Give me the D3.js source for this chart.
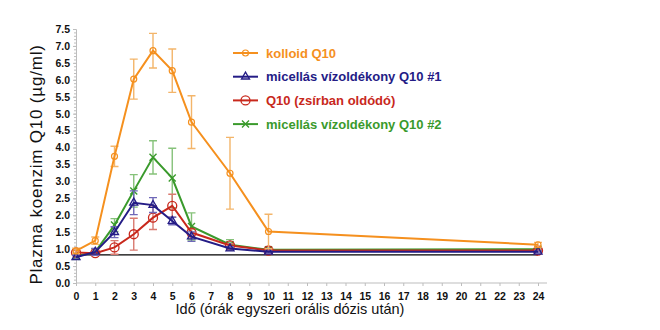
<!DOCTYPE html>
<html>
<head>
<meta charset="utf-8">
<script src="https://cdn.jsdelivr.net/npm/d3@7"></script>
<style>
  body { margin: 0; background: #fff; }
  svg { display: block; }
</style>
</head>
<body>
<svg id="chart" width="660" height="330"></svg>
<script>
// hours after the dose and mean plasma levels (µg/ml) with error bar half-widths
const hours = [0, 1, 2, 3, 4, 5, 6, 8, 10, 24];
const kolloid = [0.95, 1.25, 3.74, 6.02, 6.86, 6.27, 4.75, 3.24, 1.52, 1.13];
const kolloidErr = [0.08, 0.11, 0.30, 0.59, 0.51, 0.64, 0.78, 1.06, 0.51, 0.07];
const micel1 = [0.76, 0.92, 1.50, 2.37, 2.30, 1.83, 1.37, 1.02, 0.92, 0.92];
const micel1Err = [0.06, 0.10, 0.16, 0.35, 0.22, 0.11, 0.14, 0.05, 0.03, 0.03];
const zsir = [0.90, 0.88, 1.05, 1.44, 1.93, 2.28, 1.49, 1.11, 0.96, 0.96];
const zsirErr = [0.06, 0.05, 0.20, 0.47, 0.35, 0.34, 0.10, 0.05, 0.03, 0.03];
const micel2 = [0.78, 0.92, 1.71, 2.72, 3.71, 3.10, 1.67, 1.13, 0.98, 1.00];
const micel2Err = [0.06, 0.08, 0.19, 0.48, 0.49, 0.88, 0.40, 0.15, 0.04, 0.03];
const baseline = 0.83;

const series = [
  { name: 'kolloid Q10', values: kolloid, err: kolloidErr, color: '#f5901e', errColor: '#f3b56a', marker: 'smallcircle' },
  { name: 'micellás vízoldékony Q10 #1', values: micel1, err: micel1Err, color: '#241c86', errColor: '#6f68b8', marker: 'triangle' },
  { name: 'Q10 (zsírban oldódó)', values: zsir, err: zsirErr, color: '#c8281c', errColor: '#d97a70', marker: 'circle' },
  { name: 'micellás vízoldékony Q10 #2', values: micel2, err: micel2Err, color: '#3a9a2c', errColor: '#86c27a', marker: 'cross' }
];

const svg = d3.select('#chart');
const x = d3.scaleLinear().domain([0, 24]).range([76, 538]);
const y = d3.scaleLinear().domain([0, 7.5]).range([283, 29]);

// axes
const axisColor = '#bdbdbd';
const yAxis = svg.append('g').attr('transform', 'translate(76,0)')
  .call(d3.axisLeft(y).tickValues(d3.range(0, 7.51, 0.5)).tickSize(3).tickFormat(d3.format('.1f')));
svg.append('g').attr('transform', 'translate(76,0)')
  .call(d3.axisLeft(y).tickValues(d3.range(0, 7.51, 0.1)).tickSize(2).tickFormat(''))
  .call(g => g.select('.domain').remove())
  .selectAll('line').attr('stroke', axisColor);
yAxis.select('.domain').attr('stroke', axisColor);
yAxis.selectAll('line').attr('stroke', axisColor);
yAxis.selectAll('text')
  .attr('x', -6)
  .style('font-family', 'Liberation Sans, Arial, sans-serif')
  .style('font-weight', 'bold')
  .style('font-size', '10.5px')
  .attr('fill', '#111');

const xAxis = svg.append('g').attr('transform', 'translate(0,283)')
  .call(d3.axisBottom(x).tickValues(d3.range(0, 25, 1)).tickSize(3).tickFormat(d3.format('d')));
xAxis.select('.domain').attr('stroke', axisColor).attr('d', `M76,0H547`);
xAxis.selectAll('line').attr('stroke', axisColor);
xAxis.selectAll('text')
  .attr('y', 10)
  .style('font-family', 'Liberation Sans, Arial, sans-serif')
  .style('font-weight', 'bold')
  .style('font-size', '10.5px')
  .attr('fill', '#111');

// axis titles
svg.append('text')
  .attr('transform', `translate(42,${y(3.5)}) rotate(-90)`)
  .attr('text-anchor', 'middle')
  .style('font-family', 'Liberation Sans, Arial, sans-serif')
  .style('font-size', '17px')
  .style('letter-spacing', '0.8px')
  .attr('fill', '#111')
  .text('Plazma koenzim Q10 (µg/ml)');

svg.append('text')
  .attr('x', 290).attr('y', 314)
  .attr('text-anchor', 'middle')
  .style('font-family', 'Liberation Sans, Arial, sans-serif')
  .style('font-size', '14.5px')
  .attr('fill', '#111')
  .text('Idő (órák egyszeri orális dózis után)');

// reference line
svg.append('line')
  .attr('x1', x(0)).attr('x2', x(24))
  .attr('y1', y(baseline)).attr('y2', y(baseline))
  .attr('stroke', '#000').attr('stroke-width', 1.2);

function drawMarker(g, kind, cx, cy, color) {
  if (kind === 'smallcircle') {
    g.append('circle').attr('cx', cx).attr('cy', cy).attr('r', 3)
      .attr('fill', 'none').attr('stroke', color).attr('stroke-width', 1.2);
  } else if (kind === 'circle') {
    g.append('circle').attr('cx', cx).attr('cy', cy).attr('r', 4.5)
      .attr('fill', 'none').attr('stroke', color).attr('stroke-width', 1.3);
  } else if (kind === 'triangle') {
    g.append('path')
      .attr('d', d3.symbol().type(d3.symbolTriangle).size(28)())
      .attr('transform', `translate(${cx},${cy})`)
      .attr('fill', 'none').attr('stroke', color).attr('stroke-width', 1.3);
  } else {
    g.append('path')
      .attr('d', `M${cx - 3.5},${cy - 3.5}L${cx + 3.5},${cy + 3.5}M${cx - 3.5},${cy + 3.5}L${cx + 3.5},${cy - 3.5}`)
      .attr('stroke', color).attr('stroke-width', 1.4);
  }
}

const line = d3.line().x((d, i) => x(hours[i])).y(d => y(d));

// draw back to front
[...series].reverse().forEach(s => {
  const g = svg.append('g');
  s.values.forEach((v, i) => {
    const cx = x(hours[i]);
    const e = s.err[i];
    g.append('path')
      .attr('d', `M${cx},${y(v + e)}V${y(v - e)}M${cx - 4},${y(v + e)}H${cx + 4}M${cx - 4},${y(v - e)}H${cx + 4}`)
      .attr('stroke', s.errColor).attr('stroke-width', 1.4).attr('fill', 'none');
  });
  g.append('path').datum(s.values).attr('d', line)
    .attr('fill', 'none').attr('stroke', s.color).attr('stroke-width', 2);
  s.values.forEach((v, i) => drawMarker(g, s.marker, x(hours[i]), y(v), s.color));
});

// legend
const legend = svg.append('g');
series.forEach((s, i) => {
  const ly = 53 + i * 23.7;
  legend.append('line').attr('x1', 233).attr('x2', 258).attr('y1', ly).attr('y2', ly)
    .attr('stroke', s.color).attr('stroke-width', 2);
  drawMarker(legend, s.marker, 245.5, ly, s.color);
  legend.append('text').attr('x', 266).attr('y', ly + 4.5)
    .style('font-family', 'Liberation Sans, Arial, sans-serif')
    .style('font-weight', 'bold')
    .style('font-size', '13px')
    .attr('fill', s.color)
    .text(s.name);
});
</script>
</body>
</html>
